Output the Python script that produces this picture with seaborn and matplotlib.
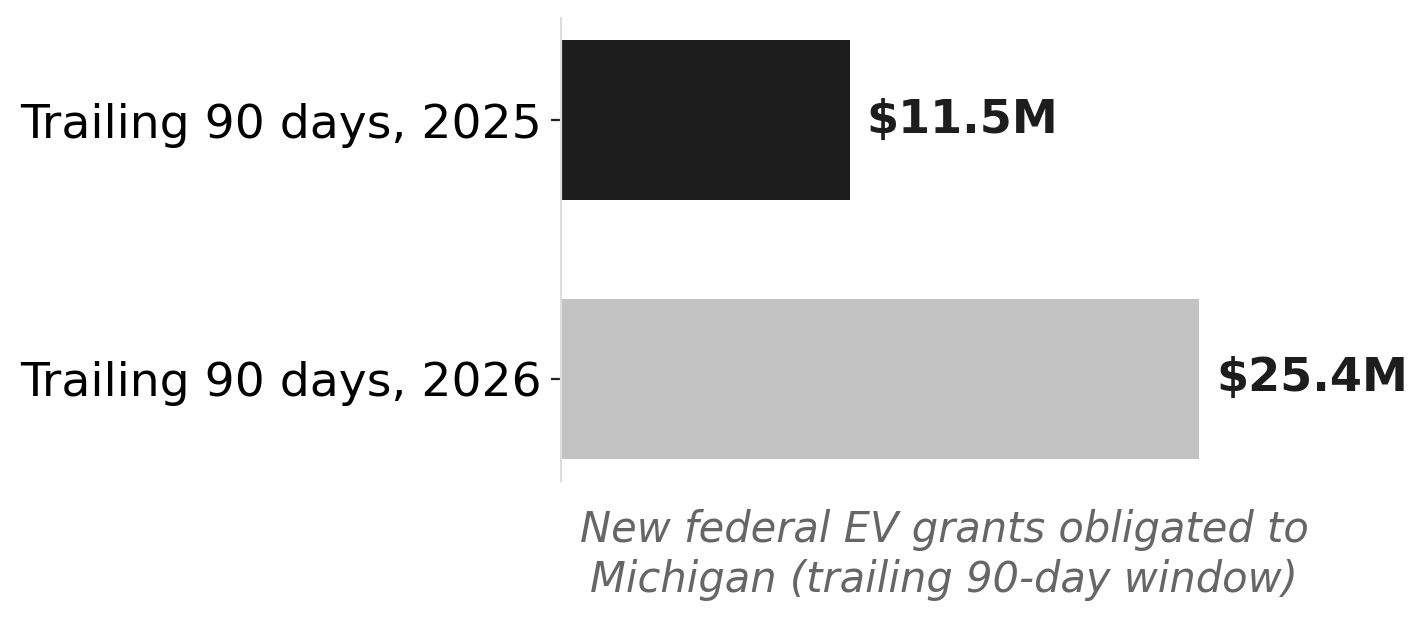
import matplotlib
matplotlib.use("Agg")
import matplotlib.pyplot as plt
import seaborn as sns
import pandas as pd

categories = ["Trailing 90 days, 2025", "Trailing 90 days, 2026"]
values = [11.5, 25.4]
labels = ["$11.5M", "$25.4M"]
colors = ["#1d1d1d", "#c3c3c3"]

df = pd.DataFrame({"period": categories, "value": values})

sns.set_theme(style="white")
plt.rcParams['font.family'] = ['DejaVu Sans']

fig = plt.figure(figsize=(7.14, 3.095), dpi=200)
ax = fig.add_axes([561/1428, (619-481)/619, (1327-561)/1428, (481-18)/619])

sns.barplot(data=df, x="value", y="period", hue="period", palette=colors,
            orient="h", width=0.62, legend=False, ax=ax, saturation=1,
            linewidth=0, edgecolor="none")

ax.set_xlim(0, max(values) * 1.2)
ax.set_ylim(1.394, -0.394)

for i, (v, lab) in enumerate(zip(values, labels)):
    ax.annotate(lab, xy=(v, i), xytext=(6, 0), textcoords="offset points",
                ha="left", va="center", fontsize=16.6, fontweight="bold",
                color="#1d1d1d")

ax.set_xticks([])
ax.set_ylabel("")
ax.set_xlabel("New federal EV grants obligated to\nMichigan (trailing 90-day window)",
              fontsize=15.0, fontstyle="italic", color="#666666", labelpad=10,
              linespacing=1.25)
ax.tick_params(axis="y", labelsize=17.0, length=3.5, width=0.8, color="#222222",
               left=True, pad=3.5, labelcolor="#000000")
for s in ["top", "right", "bottom"]:
    ax.spines[s].set_visible(False)
ax.spines["left"].set_color("#dddddd")
ax.spines["left"].set_linewidth(0.8)

fig.savefig("out.png", dpi=200)
